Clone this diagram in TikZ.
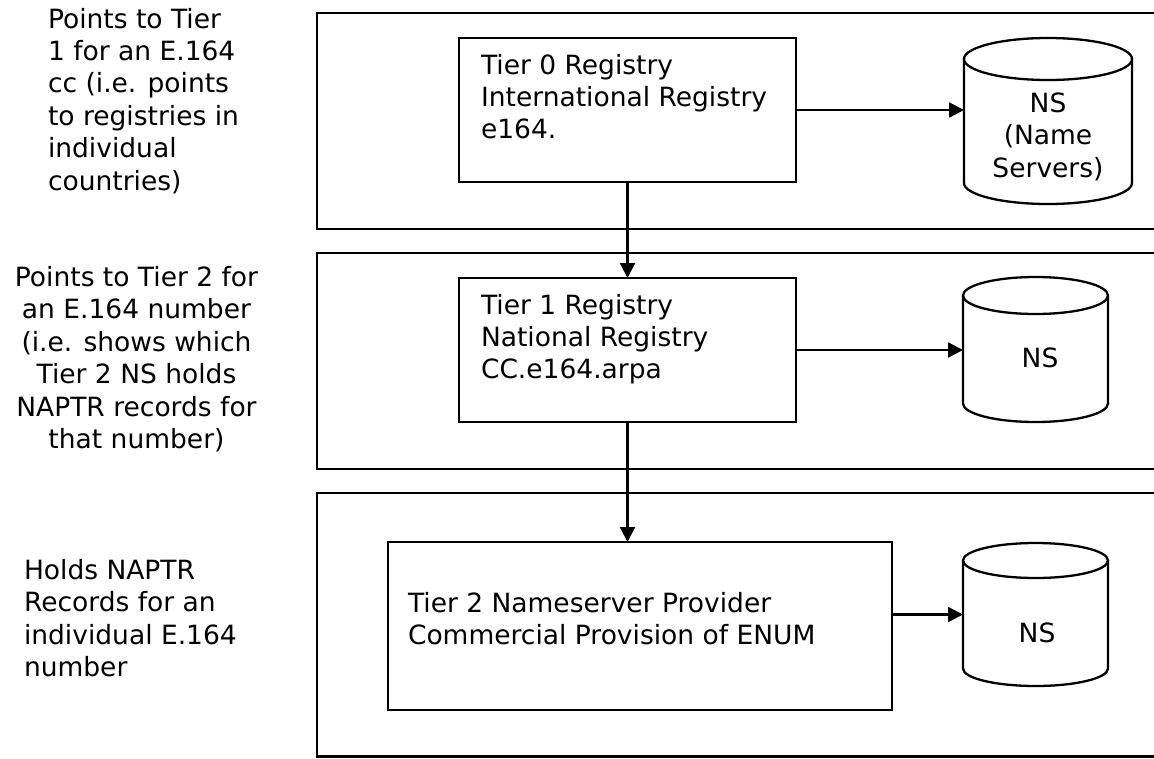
\documentclass[tikz,border=0pt]{standalone}
\usepackage{fontspec}
\setmainfont{DejaVu Sans}
\usetikzlibrary{arrows.meta,calc}

% invisible strut fixing the top of a text block 22pt above its first baseline
\newcommand\firstline{\rule{0pt}{22pt}}

% cylinder outline drawn around a (blank) node: #1 node, #2 half width, #3 cap radius
\newcommand\drawdrum[3]{%
  \draw[drum] ($(#1.north west)+(0,#3)$) -- ($(#1.south west)+(0,-#3)$)
    arc[start angle=180, end angle=0, x radius=#2, y radius=#3]
    -- ($(#1.north east)+(0,#3)$);
  \draw[drum] ($(#1.north)+(0,#3)$) ellipse[x radius=#2, y radius=#3];
}

\begin{document}
\begin{tikzpicture}[x=1pt, y=-1pt,
  every node/.style={inner sep=0pt, outer sep=0pt},
  txt/.style={font=\fontsize{26.5}{32.4}\selectfont, text=black},
  band/.style={draw=black, line width=2.5pt},
  regbox/.style={draw=black, line width=2.4pt, rectangle},
  drumbody/.style={rectangle},
  drum/.style={draw=black, line width=2.3pt, fill=white},
  link/.style={draw=black, line width=2.3pt, -{Triangle[length=15pt, width=15pt]}}]

\useasboundingbox (0,0) rectangle (1154,758);
\fill[white] (0,0) rectangle (1154,758);
\clip (0,0) rectangle (1154,758);

% the three tier bands
\draw[band] (317,13) rectangle (1175,229);
\draw[band] (317,253) rectangle (1175,469);
\draw[band] (317,493) rectangle (1175,756.5);

% registry boxes
\node[regbox, minimum width=337, minimum height=144] (tier0) at (627.5,110) {};
\node[regbox, minimum width=337, minimum height=144] (tier1) at (627.5,350) {};
\node[regbox, minimum width=504, minimum height=168] (tier2) at (640,626) {};

\node[txt, anchor=north west, align=left] (tier0t) at (481,52)
  {\firstline Tier 0 Registry\\International Registry\\e164.};
\node[txt, anchor=north west, align=left] (tier1t) at (481,292)
  {\firstline Tier 1 Registry\\National Registry\\CC.e164.arpa};
\node[txt, anchor=north west, align=left] (tier2t) at (408,590)
  {\firstline Tier 2 Nameserver Provider\\Commercial Provision of ENUM};

% name server cylinders
\node[drumbody, minimum width=168, minimum height=166] (ns0) at (1048,121) {};
\drawdrum{ns0}{84}{21}
\node[drumbody, minimum width=145, minimum height=145] (ns1) at (1035.5,349.5) {};
\drawdrum{ns1}{72.5}{18.5}
\node[drumbody, minimum width=145, minimum height=143] (ns2) at (1035.5,614.5) {};
\drawdrum{ns2}{72.5}{17.5}

\node[txt, anchor=north, align=center] (ns0t) at (1048,90.5)
  {\firstline NS\\(Name\\Servers)};
\node[txt, anchor=north, align=center] (ns1t) at (1040,345.5) {\firstline NS};
\node[txt, anchor=north, align=center] (ns2t) at (1037,620.5) {\firstline NS};

% connectors
\draw[link] (tier0.east) -- (tier0.east -| ns0.west);
\draw[link] (tier1.east) -- (tier1.east -| ns1.west);
\draw[link] (ns2.west -| tier2.east) -- (ns2.west);
\draw[link] (tier0.south) -- (tier1.north);
\draw[link] (tier1.south) -- (tier1.south |- tier2.north);

% notes on the left
\node[txt, anchor=north west, align=left] (note0) at (48,6)
  {\firstline Points to Tier\\1 for an E.164\\cc (i.e. points\\to registries in\\individual\\countries)};
\node[txt, anchor=north, align=center] (note1) at (136.5,264.5)
  {\firstline Points to Tier 2 for\\an E.164 number\\(i.e. shows which\\Tier 2 NS holds\\NAPTR records for\\that number)};
\node[txt, anchor=north west, align=left] (note2) at (24,557.5)
  {\firstline Holds NAPTR\\Records for an\\individual E.164\\number};

\end{tikzpicture}
\end{document}
